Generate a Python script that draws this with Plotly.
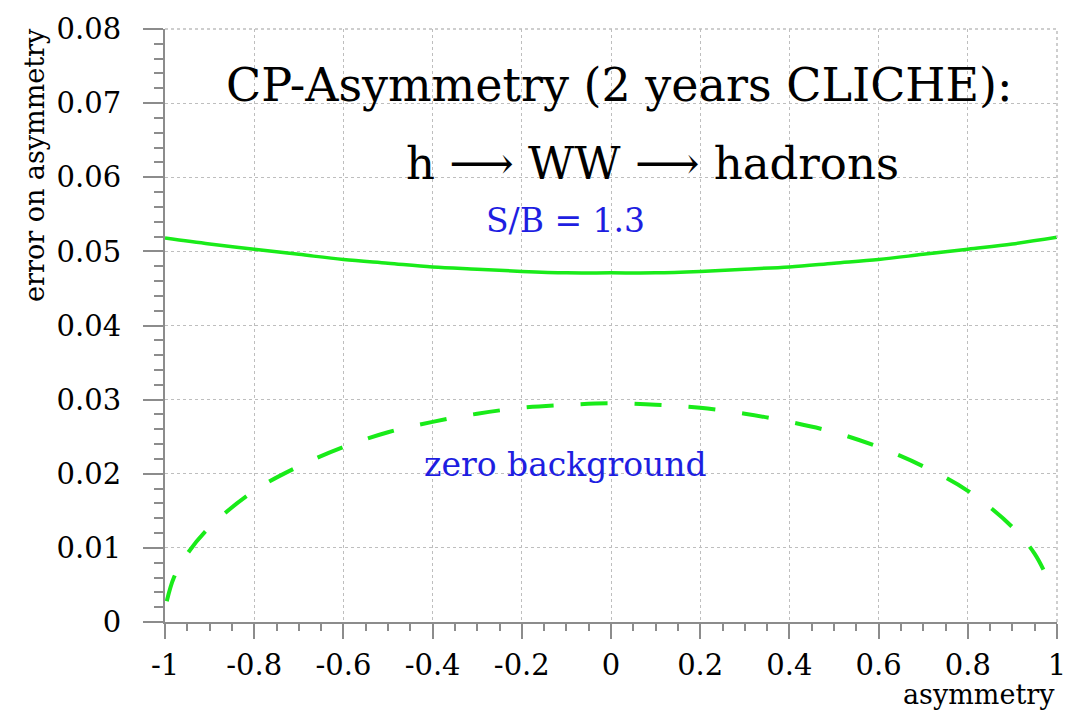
import plotly.graph_objects as go

# Asymmetry values and the error on the asymmetry for the two scenarios
asym_sb = [-1.0, -0.9, -0.8, -0.7, -0.6, -0.5, -0.4, -0.3, -0.2, -0.1, 0.0,
           0.1, 0.2, 0.3, 0.4, 0.5, 0.6, 0.7, 0.8, 0.9, 1.0]
err_sb = [0.0518, 0.0510, 0.0503, 0.0496, 0.0489, 0.0484, 0.0479, 0.0476, 0.0473, 0.0471, 0.0471,
          0.0471, 0.0473, 0.0476, 0.0479, 0.0484, 0.0489, 0.0496, 0.0503, 0.0510, 0.0519]

asym_zero = [-0.996, -0.98, -0.95, -0.9, -0.8, -0.7, -0.6, -0.5, -0.4, -0.3, -0.2, -0.1, 0.0,
             0.1, 0.2, 0.3, 0.4, 0.5, 0.6, 0.7, 0.8, 0.9, 0.95, 0.984]
err_zero = [0.0028, 0.0060, 0.0092, 0.0128, 0.0177, 0.0210, 0.0236, 0.0256, 0.0270, 0.0281, 0.0289, 0.0293, 0.0295,
            0.0293, 0.0289, 0.0281, 0.0270, 0.0256, 0.0236, 0.0210, 0.0177, 0.0128, 0.0092, 0.0052]

x_ticks = [-1, -0.8, -0.6, -0.4, -0.2, 0, 0.2, 0.4, 0.6, 0.8, 1]
x_tick_text = ["-1", "-0.8", "-0.6", "-0.4", "-0.2", "0", "0.2", "0.4", "0.6", "0.8", "1"]
y_ticks = [0, 0.01, 0.02, 0.03, 0.04, 0.05, 0.06, 0.07, 0.08]
y_tick_text = ["0", "0.01", "0.02", "0.03", "0.04", "0.05", "0.06", "0.07", "0.08"]

GREEN = "rgb(25,235,25)"
BLUE = "rgb(30,30,225)"
SERIF = "DejaVu Serif"
GRID = "rgb(190,190,190)"
AXIS = "rgb(140,140,140)"

fig = go.Figure()
fig.add_trace(go.Scatter(x=asym_sb, y=err_sb, mode="lines", line=dict(color=GREEN, width=3.5, shape="spline"),
                         showlegend=False))
fig.add_trace(go.Scatter(x=asym_zero, y=err_zero, mode="lines",
                         line=dict(color=GREEN, width=4, dash="27px,27px", shape="spline"),
                         showlegend=False))

axis_common = dict(
    showgrid=True, gridcolor=GRID, griddash="dot", gridwidth=1,
    showline=True, linecolor=AXIS, linewidth=2,
    ticks="outside", tickwidth=1.5, tickcolor=AXIS,
    tickfont=dict(family=SERIF, size=29, color="black"),
    zeroline=False,
)

fig.update_xaxes(range=[-1, 1], tickvals=x_ticks, ticktext=x_tick_text, ticklen=15,
                 minor=dict(dtick=0.05, ticks="outside", ticklen=7, tickcolor=AXIS, showgrid=False),
                 ticklabelstandoff=1, **axis_common)
fig.update_yaxes(range=[0, 0.08], tickvals=y_ticks, ticktext=y_tick_text, ticklen=20,
                 minor=dict(dtick=0.002, ticks="outside", ticklen=9, tickcolor=AXIS, showgrid=False),
                 ticklabelstandoff=16, **axis_common)

# frame on the top and right edges, dotted like the grid
fig.add_shape(type="line", xref="paper", yref="paper", x0=0, x1=1, y0=1, y1=1,
              line=dict(color=GRID, width=1.5, dash="dot"))
fig.add_shape(type="line", xref="paper", yref="paper", x0=1, x1=1, y0=0, y1=1,
              line=dict(color=GRID, width=1.5, dash="dot"))

fig.add_annotation(x=0.018, y=0.0725, text="CP-Asymmetry (2 years CLICHE):", showarrow=False,
                   font=dict(family=SERIF, size=46, color="black"))
fig.add_annotation(x=0.094, y=0.0619, text="h \u27f6 WW \u27f6 hadrons", showarrow=False,
                   font=dict(family=SERIF, size=45, color="black"))
fig.add_annotation(x=-0.101, y=0.0541, text="S/B = 1.3", showarrow=False,
                   font=dict(family=SERIF, size=33, color=BLUE))
fig.add_annotation(x=-0.103, y=0.0213, text="zero background", showarrow=False,
                   font=dict(family=SERIF, size=33, color=BLUE))

fig.add_annotation(xref="paper", yref="paper", x=-0.147, y=1.005, xanchor="center", yanchor="top",
                   text="error on asymmetry", textangle=-90, showarrow=False,
                   font=dict(family=SERIF, size=27, color="black"))
fig.add_annotation(xref="paper", yref="paper", x=1.0, y=-0.152, xanchor="right", yanchor="bottom",
                   text="asymmetry", showarrow=False,
                   font=dict(family=SERIF, size=27, color="black"))

fig.update_layout(
    width=1089, height=713,
    margin=dict(l=165, r=32, t=22, b=91),
    plot_bgcolor="white", paper_bgcolor="white",
)

fig.write_html("out.html")
